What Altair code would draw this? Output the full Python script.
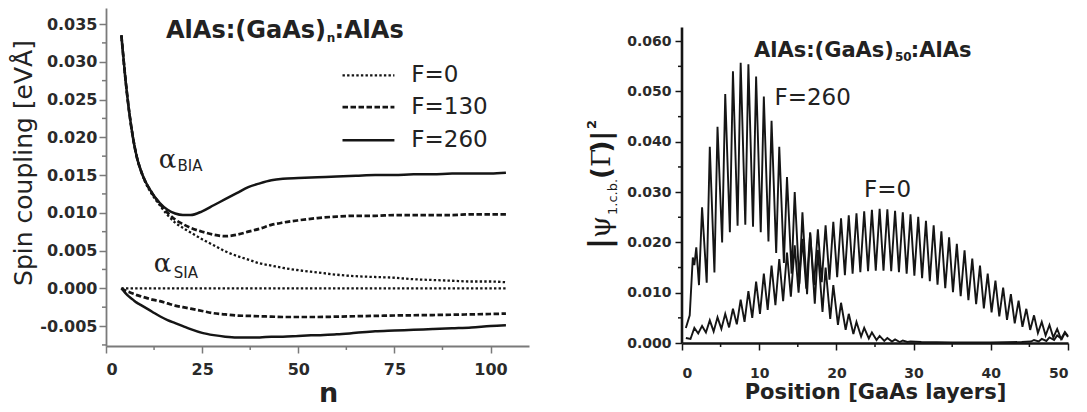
import altair as alt
import pandas as pd

SANS = "DejaVu Sans"
SERIF = "DejaVu Serif"
INK = "#151515"
GREY = "#7a7a7a"

# ---------------- left panel data ----------------
n_grid = [4, 5, 6, 7, 8, 9, 10, 12, 14, 16, 18, 20, 22, 25, 28, 31, 34, 37, 40,
          43, 46, 50, 55, 60, 65, 70, 75, 80, 85, 90, 95, 100, 104]
bia_f260 = [0.0335, 0.0280, 0.0235, 0.0200, 0.0174, 0.0157, 0.0144, 0.0126, 0.0113,
            0.0104, 0.0099, 0.0097, 0.0097, 0.0102, 0.0110, 0.0118, 0.0126, 0.0134,
            0.0139, 0.0143, 0.0145, 0.0146, 0.0147, 0.0148, 0.0149, 0.0150, 0.0150,
            0.0151, 0.0151, 0.0152, 0.0152, 0.0152, 0.0153]
bia_f130 = [0.0335, 0.0280, 0.0235, 0.0200, 0.0174, 0.0157, 0.0144, 0.0126, 0.0112,
            0.0100, 0.0091, 0.0085, 0.0080, 0.0075, 0.0071, 0.0069, 0.0071, 0.0075,
            0.0079, 0.0084, 0.0087, 0.0090, 0.0093, 0.0095, 0.0096, 0.0096, 0.0097,
            0.0097, 0.0097, 0.0097, 0.0098, 0.0098, 0.0098]
bia_f0 = [0.0335, 0.0280, 0.0235, 0.0200, 0.0174, 0.0157, 0.0143, 0.0124, 0.0110,
          0.0097, 0.0087, 0.0080, 0.0074, 0.0065, 0.0057, 0.0049, 0.0043, 0.0038,
          0.0033, 0.0030, 0.0027, 0.0024, 0.0021, 0.0018, 0.0016, 0.0015, 0.0014,
          0.0012, 0.0011, 0.0010, 0.0009, 0.0009, 0.0008]
sia_f0 = [0.0, 0.0, 0.0, 0.0, 0.0, 0.0, 0.0, 0.0, 0.0, 0.0, 0.0, 0.0, 0.0, 0.0, 0.0,
          0.0, 0.0, 0.0, 0.0, 0.0, 0.0, 0.0, 0.0, 0.0, 0.0, 0.0, 0.0, 0.0, 0.0, 0.0,
          0.0, 0.0, 0.0]
sia_f130 = [0.0, -0.0003, -0.0005, -0.0007, -0.0009, -0.00105, -0.0012, -0.0015,
            -0.0017, -0.0020, -0.0023, -0.0025, -0.0027, -0.0030, -0.0033, -0.00345,
            -0.0036, -0.00365, -0.0037, -0.00375, -0.0038, -0.0038, -0.0038, -0.00375,
            -0.0037, -0.00365, -0.0036, -0.00357, -0.00354, -0.0035, -0.00345, -0.0034,
            -0.00335]
sia_f260 = [0.0, -0.0006, -0.0011, -0.0015, -0.0019, -0.0022, -0.0025, -0.0031,
            -0.0037, -0.0042, -0.0046, -0.0050, -0.0054, -0.0059, -0.0062, -0.0064,
            -0.0065, -0.0065, -0.0065, -0.0064, -0.0064, -0.0063, -0.0062, -0.0061,
            -0.0059, -0.0057, -0.0056, -0.0055, -0.0054, -0.0053, -0.0052, -0.0050,
            -0.0049]

left_x_ticks = [0, 25, 50, 75, 100]
left_x_minor = [12.5, 37.5, 62.5, 87.5]
left_y_ticks = [-0.005, 0.0, 0.005, 0.010, 0.015, 0.020, 0.025, 0.030, 0.035]
left_y_minor = [-0.0075, -0.0025, 0.0025, 0.0075, 0.0125, 0.0175, 0.0225, 0.0275, 0.0325]

legend_items = ["F=0", "F=130", "F=260"]
legend_v = [0.0282, 0.0240, 0.0196]
legend_n = [61.5, 75.0, 79.4]

# ---------------- right panel data ----------------
f0_profile = [
    (0.5, 0.0010),
    (1.1, 0.0008), (1.6, 0.0030), (2.1, 0.0019), (2.6, 0.0034),
    (3.1, 0.0021), (3.6, 0.0045), (4.1, 0.0023), (4.6, 0.0051),
    (5.1, 0.0028), (5.6, 0.0058), (6.1, 0.0031), (6.6, 0.0068),
    (7.1, 0.0037), (7.6, 0.0086), (8.1, 0.0042), (8.6, 0.0103),
    (9.1, 0.0050), (9.6, 0.0122), (10.1, 0.0058), (10.6, 0.0138),
    (11.1, 0.0066), (11.6, 0.0154), (12.1, 0.0075), (12.6, 0.0167),
    (13.1, 0.0083), (13.6, 0.0180), (14.1, 0.0092), (14.6, 0.0194),
    (15.1, 0.0100), (15.6, 0.0207), (16.1, 0.0108), (16.6, 0.0218),
    (17.1, 0.0115), (17.6, 0.0226), (18.1, 0.0121), (18.6, 0.0234),
    (19.1, 0.0126), (19.6, 0.0241), (20.1, 0.0131), (20.6, 0.0248),
    (21.1, 0.0135), (21.6, 0.0254), (22.1, 0.0138), (22.6, 0.0258),
    (23.1, 0.0141), (23.6, 0.0262), (24.1, 0.0143), (24.6, 0.0265),
    (25.1, 0.0144), (25.6, 0.0267), (26.1, 0.0144), (26.6, 0.0266),
    (27.1, 0.0143), (27.6, 0.0263), (28.1, 0.0141), (28.6, 0.0260),
    (29.1, 0.0138), (29.6, 0.0256), (30.1, 0.0134), (30.6, 0.0251),
    (31.1, 0.0129), (31.6, 0.0243), (32.1, 0.0123), (32.6, 0.0234),
    (33.1, 0.0116), (33.6, 0.0222), (34.1, 0.0109), (34.6, 0.0210),
    (35.1, 0.0101), (35.6, 0.0197), (36.1, 0.0093), (36.6, 0.0184),
    (37.1, 0.0085), (37.6, 0.0168), (38.1, 0.0077), (38.6, 0.0154),
    (39.1, 0.0069), (39.6, 0.0138), (40.1, 0.0061), (40.6, 0.0124),
    (41.1, 0.0053), (41.6, 0.0110), (42.1, 0.0046), (42.6, 0.0097),
    (43.1, 0.0039), (43.6, 0.0084), (44.1, 0.0032), (44.6, 0.0068),
    (45.1, 0.0026), (45.6, 0.0055), (46.1, 0.0020), (46.6, 0.0042),
    (47.1, 0.0015), (47.6, 0.0036), (48.1, 0.0011), (48.6, 0.0028),
    (49.1, 0.0008), (49.6, 0.0022), (50.0, 0.0014),
]
f260_profile = [
    (0.5, 0.0030), (1.0, 0.0055), (1.4, 0.0170), (1.6, 0.0155), (1.85, 0.0190),
    (2.2, 0.0115), (2.6, 0.0270), (3.2, 0.0120), (3.6, 0.0390),
    (4.2, 0.0140), (4.6, 0.0430), (5.2, 0.0200), (5.6, 0.0495),
    (6.2, 0.0220), (6.6, 0.0540), (7.2, 0.0233), (7.6, 0.0557),
    (8.2, 0.0235), (8.6, 0.0554), (9.2, 0.0231), (9.6, 0.0530),
    (10.2, 0.0220), (10.6, 0.0490), (11.2, 0.0202), (11.6, 0.0442),
    (12.2, 0.0179), (12.6, 0.0390), (13.2, 0.0159), (13.6, 0.0330),
    (14.2, 0.0138), (14.6, 0.0300), (15.2, 0.0118), (15.6, 0.0260),
    (16.2, 0.0097), (16.6, 0.0220), (17.2, 0.0078), (17.6, 0.0185),
    (18.2, 0.0062), (18.6, 0.0150), (19.2, 0.0048), (19.6, 0.0115),
    (20.2, 0.0036), (20.6, 0.0080), (21.2, 0.0026), (21.6, 0.0058),
    (22.2, 0.0018), (22.6, 0.0042), (23.2, 0.0013), (23.6, 0.0030),
    (24.2, 0.0009), (24.6, 0.0021), (25.2, 0.0006), (25.6, 0.0014),
    (26.2, 0.0004), (26.6, 0.0010), (27.2, 0.0003), (27.6, 0.0007),
    (28.2, 0.0002), (28.6, 0.0005), (29.2, 0.0002), (29.6, 0.0003),
    (31.0, 0.0002), (35.0, 0.0001), (40.0, 0.0001), (44.0, 0.0002),
    (45.2, 0.0003), (45.6, 0.0006), (46.2, 0.0003), (46.6, 0.0008),
    (47.2, 0.0004), (47.6, 0.0011), (48.2, 0.0006), (48.6, 0.0015),
    (49.2, 0.0008), (49.6, 0.0020), (50.0, 0.0012),
]

right_x_ticks = [0, 10, 20, 30, 40, 50]
right_x_minor = [5, 15, 25, 35, 45]
right_y_ticks = [0.0, 0.01, 0.02, 0.03, 0.04, 0.05, 0.06]
right_y_minor = [0.005, 0.015, 0.025, 0.035, 0.045, 0.055]
right_y_axis_top = [0.0627]

# ---------------- tables ----------------
left_curves = [
    ("BIA", "F=0", bia_f0), ("BIA", "F=130", bia_f130), ("BIA", "F=260", bia_f260),
    ("SIA", "F=0", sia_f0), ("SIA", "F=130", sia_f130), ("SIA", "F=260", sia_f260),
]
rows = []
for kind, f, vals in left_curves:
    assert len(vals) == len(n_grid)
    for n, v in zip(n_grid, vals):
        rows.append({"n": n, "v": v, "curve": kind + f, "F": f})
left_df = pd.DataFrame(rows)

legend_df = pd.DataFrame({"F": legend_items, "v": legend_v,
                          "n": [legend_n[0]] * 3, "n2": [legend_n[1]] * 3,
                          "nt": [legend_n[2]] * 3})

rrows = []
for name, prof in (("F=0", f0_profile), ("F=260", f260_profile)):
    for u, v in prof:
        rrows.append({"u": u, "v": v, "s": name})
right_df = pd.DataFrame(rrows)

# ---------------- left panel ----------------
LW, LH = 423, 338
lx_scale = alt.Scale(domain=[0, 110], nice=False, zero=False)
ly_scale = alt.Scale(domain=[-0.00764, 0.03712], nice=False, zero=False)

lx_axis = alt.Axis(values=left_x_ticks, format="d", title="n", titleX=222, grid=False,
                   domainColor=GREY, domainWidth=1.8, tickColor=GREY, tickWidth=1.5,
                   tickSize=7, labelFont=SANS, labelFontWeight="bold", labelFontSize=16,
                   labelColor="#2a2a2a", labelPadding=8, titleFont=SANS,
                   titleFontSize=27, titleFontWeight="bold", titleColor="#222",
                   titlePadding=3)
ly_axis = alt.Axis(values=left_y_ticks,
                   labelExpr="(datum.value < -0.000001 ? '-' : '') + format(abs(datum.value), '.3f')",
                   title="Spin coupling [eVÅ]", titleY=154.5, grid=False,
                   domainColor=GREY, domainWidth=1.8, tickColor=GREY, tickWidth=1.5,
                   tickSize=7, labelFont=SANS, labelFontWeight="bold", labelFontSize=16,
                   labelColor="#2a2a2a", labelPadding=2, titleFont=SANS,
                   titleFontSize=25, titleFontWeight="normal", titleColor="#222",
                   titlePadding=3)


def LX(field="n"):
    return alt.X(f"{field}:Q", scale=lx_scale, axis=lx_axis)


def LY(field="v"):
    return alt.Y(f"{field}:Q", scale=ly_scale, axis=ly_axis)


styles = {
    "F=0": dict(strokeDash=[2.4, 2.2], strokeWidth=2.3),
    "F=130": dict(strokeDash=[5.5, 2.5], strokeWidth=2.7),
    "F=260": dict(strokeWidth=2.5),
}

left_layers = []
for f, st in styles.items():
    left_layers.append(
        alt.Chart(left_df).transform_filter(alt.datum.F == f)
        .mark_line(color=INK, interpolate="monotone", **st)
        .encode(x=LX(), y=LY(), detail="curve:N"))
    left_layers.append(
        alt.Chart(legend_df).transform_filter(alt.datum.F == f)
        .mark_rule(color=INK, **st)
        .encode(x=LX("n"), x2="n2:Q", y=LY("v")))

left_layers.append(
    alt.Chart(legend_df).mark_text(align="left", baseline="middle", font=SANS,
                                   fontSize=23, color="#222")
    .encode(x=LX("nt"), y=LY("v"), text="F:N"))

# minor ticks
left_layers.append(
    alt.Chart(pd.DataFrame({"v": left_y_minor})).mark_rule(color=GREY, strokeWidth=1.5)
    .encode(y=LY("v"), x=alt.value(-4), x2=alt.value(0)))
left_layers.append(
    alt.Chart(pd.DataFrame({"n": left_x_minor})).mark_rule(color=GREY, strokeWidth=1.5)
    .encode(x=LX("n"), y=alt.value(LH), y2=alt.value(LH + 4)))


def ltext(txt, n, v, size, weight="normal", font=SANS, align="left"):
    return (alt.Chart(pd.DataFrame({"t": [txt], "n": [n], "v": [v]}))
            .mark_text(align=align, baseline="alphabetic", font=font, fontSize=size,
                       fontWeight=weight, color="#222")
            .encode(x=LX("n"), y=LY("v"), text="t:N"))


left_layers += [
    ltext("AlAs:(GaAs)", 57.2, 0.03314, 24, "bold", align="right"),
    ltext("n", 57.4, 0.03261, 12, "bold"),
    ltext(":AlAs", 59.4, 0.03314, 24, "bold"),
    ltext("α", 13.7, 0.01593, 26, font=SERIF),
    ltext("BIA", 18.6, 0.01553, 15),
    ltext("α", 12.4, 0.00216, 26, font=SERIF),
    ltext("SIA", 17.6, 0.00136, 15),
]

left = alt.layer(*left_layers).properties(width=LW, height=LH)

# ---------------- right panel ----------------
RW, RH = 386, 335
rx_scale = alt.Scale(domain=[0, 50], nice=False, zero=False)
ry_scale = alt.Scale(domain=[0, 0.0666], nice=False, zero=False)

rx_axis = alt.Axis(values=right_x_ticks, format="d", title="Position [GaAs layers]",
                   grid=False, domainColor=INK, domainWidth=2.6, tickColor=INK,
                   tickWidth=1.5, tickSize=7, labelFont=SANS, labelFontWeight="bold",
                   labelFontSize=14, labelColor="#2a2a2a", labelPadding=16,
                   titleFont=SANS, titleFontSize=21, titleFontWeight="bold",
                   titleColor="#222", titlePadding=1)
ry_axis = alt.Axis(values=right_y_ticks, labelExpr="format(datum.value, '.3f')",
                   title=None, grid=False, domain=False,
                   tickColor=INK, tickWidth=1.5, tickSize=7, labelFont=SANS,
                   labelFontWeight="bold", labelFontSize=14, labelColor="#2a2a2a",
                   labelPadding=4)


def RX(field="u"):
    return alt.X(f"{field}:Q", scale=rx_scale, axis=rx_axis)


def RY(field="v"):
    return alt.Y(f"{field}:Q", scale=ry_scale, axis=ry_axis)


right_layers = [
    alt.Chart(right_df).mark_line(color=INK, strokeWidth=1.9, strokeJoin="miter")
    .encode(x=RX(), y=RY(), detail="s:N", order="u:Q"),
    # y-axis line, drawn only up to its last tick region
    alt.Chart(pd.DataFrame({"u": [0.0], "v": [0.0], "v2": right_y_axis_top}))
    .mark_rule(color=INK, strokeWidth=2.6)
    .encode(x=RX("u"), y=RY("v"), y2="v2:Q"),
    alt.Chart(pd.DataFrame({"v": right_y_minor})).mark_rule(color=INK, strokeWidth=1.5)
    .encode(y=RY("v"), x=alt.value(-4), x2=alt.value(0)),
    alt.Chart(pd.DataFrame({"u": right_x_minor})).mark_rule(color=INK, strokeWidth=1.5)
    .encode(x=RX("u"), y=alt.value(RH), y2=alt.value(RH + 4)),
]


def rtext(txt, u, v, size, weight="normal", font=SANS, align="left"):
    return (alt.Chart(pd.DataFrame({"t": [txt], "u": [u], "v": [v]}))
            .mark_text(align=align, baseline="alphabetic", font=font, fontSize=size,
                       fontWeight=weight, color="#222")
            .encode(x=RX("u"), y=RY("v"), text="t:N"))


right_layers += [
    rtext("AlAs:(GaAs)", 27.45, 0.05695, 21, "bold", align="right"),
    rtext("50", 27.58, 0.05616, 12, "bold"),
    rtext(":AlAs", 29.64, 0.05695, 21, "bold"),
    rtext("F=260", 11.98, 0.0474, 23),
    rtext("F=0", 23.58, 0.0291, 23),
]

# rotated y-axis title pieces: |ψ_1.c.b.(Γ)|²  (offsets in px from plot origin)
title_pieces = [
    ("|", -72, 241, 30, "bold", SANS),
    ("ψ", -72, 230, 28, "normal", SERIF),
    ("1.c.b.", -65, 207, 13, "normal", SANS),
    ("(", -72, 171, 26, "bold", SANS),
    ("Γ", -72, 159, 26, "normal", SERIF),
    (")", -72, 144.5, 26, "bold", SANS),
    ("|", -72, 132.6, 26, "bold", SANS),
    ("2", -86, 121, 13, "bold", SANS),
]
for txt, dx, dy, size, weight, font in title_pieces:
    right_layers.append(
        alt.Chart(pd.DataFrame({"t": [txt]}))
        .mark_text(angle=270, align="left", baseline="alphabetic", font=font,
                   fontSize=size, fontWeight=weight, color="#1a1a1a")
        .encode(x=alt.value(dx), y=alt.value(dy), text="t:N"))

right = alt.layer(*right_layers).properties(width=RW, height=RH)

chart = (alt.hconcat(left, right, spacing=57)
         .properties(padding={"left": 3, "top": 0, "right": 0, "bottom": 0})
         .configure_view(stroke=None))

chart.save("out.html", embed_options={"renderer": "svg", "actions": False})
